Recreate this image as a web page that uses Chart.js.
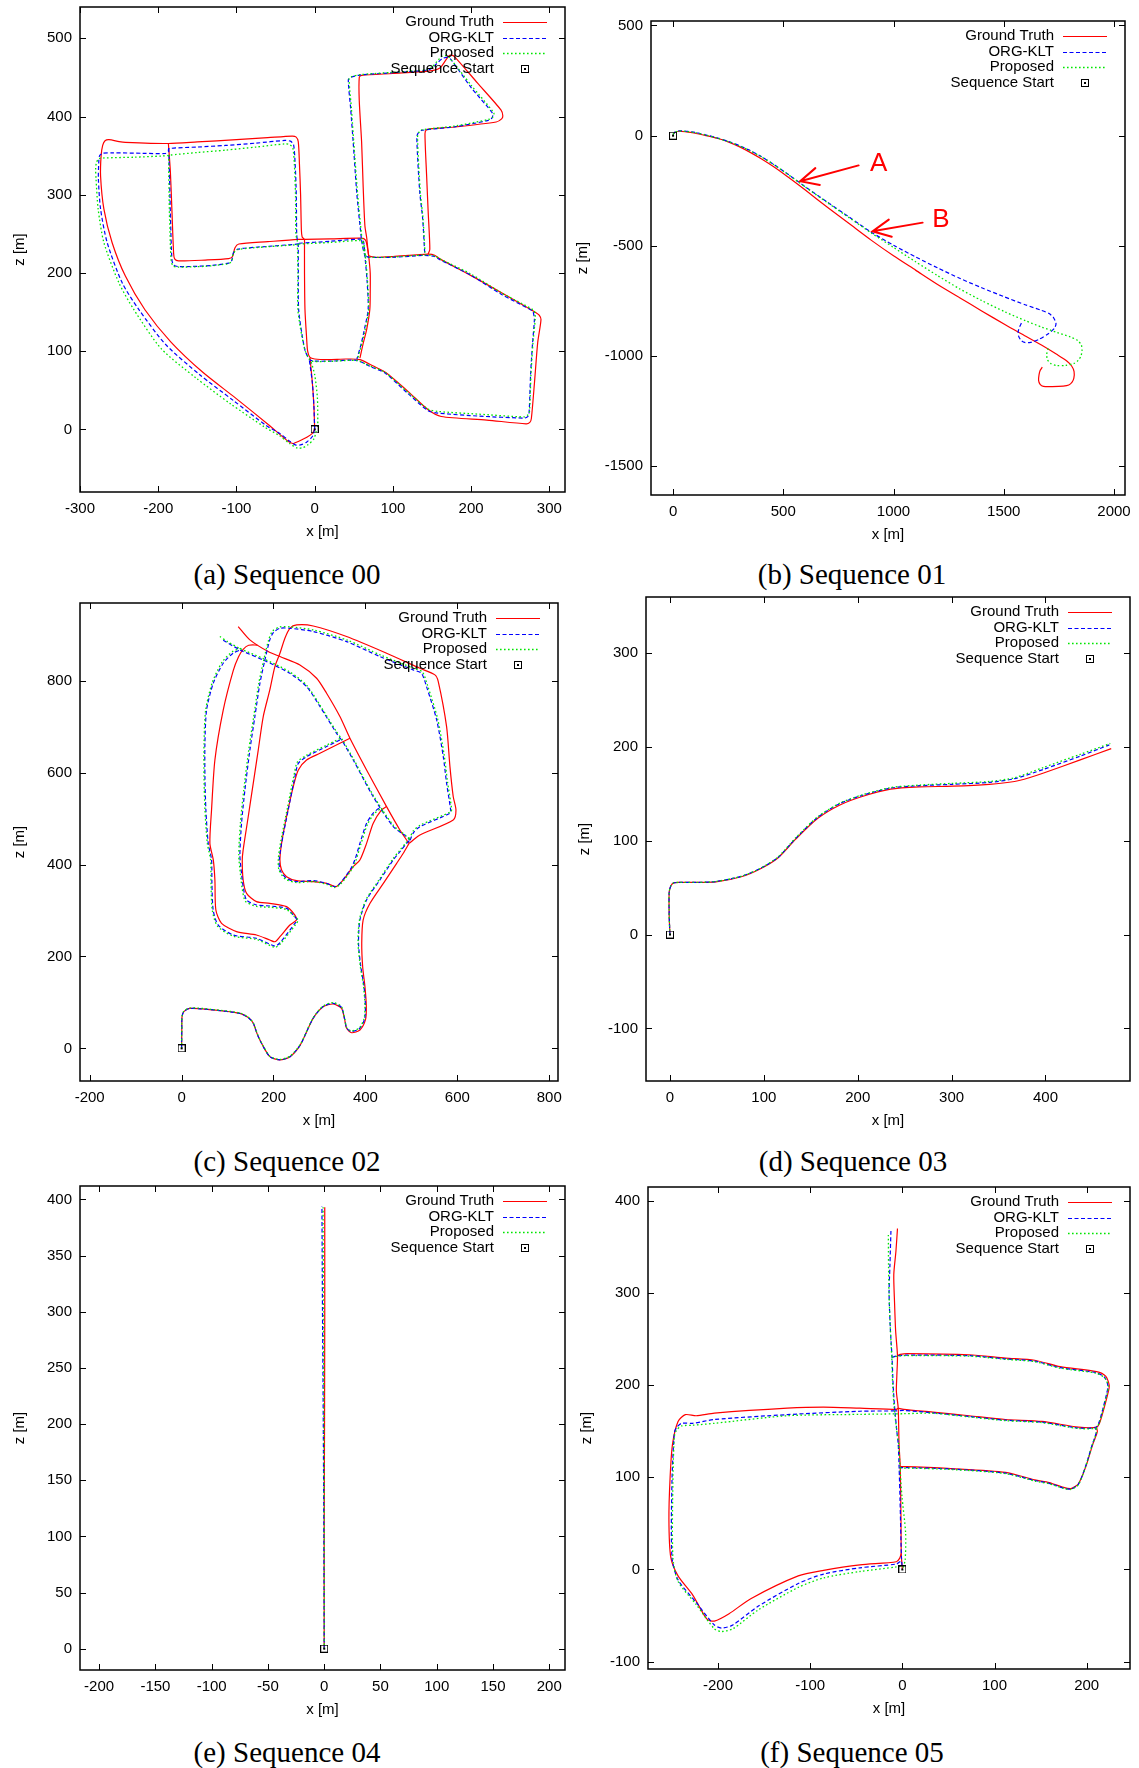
<!DOCTYPE html>
<html>
<head>
<meta charset="utf-8">
<script src="https://cdn.jsdelivr.net/npm/chart.js@4.4.1/dist/chart.umd.min.js"></script>
<style>
  html, body { margin: 0; padding: 0; background: #fff; }
  body { width: 1139px; height: 1768px; position: relative; overflow: hidden; }
  canvas { position: absolute; }
  .cap { position: absolute; width: 300px; text-align: center; white-space: nowrap;
         font-family: "Liberation Serif", "Times New Roman", serif; font-size: 29px; line-height: 29px; color: #000; }
</style>
</head>
<body>
<script>
// ---------------- DATA ----------------
const seriesNames = ['Ground Truth', 'ORG-KLT', 'Proposed', 'Sequence Start'];
const captions = ['(a) Sequence 00', '(b) Sequence 01', '(c) Sequence 02', '(d) Sequence 03', '(e) Sequence 04', '(f) Sequence 05'];
const startPoint = [0, 0];

// Sequence 00  (each series = list of path segments, points are [x, z])
const s00_xt = [-300, -200, -100, 0, 100, 200, 300];
const s00_yt = [0, 100, 200, 300, 400, 500];
const s00_gt = [
  [[0,0],[-3,-5],[-10,-10],[-17,-13.5],[-25,-17],[-28,-18],[-34,-15],[-45,-6],[-59,6],[-101,40],[-143,73],[-184,112],[-217,153],[-242,196],[-259,239],[-269.5,282],[-273.7,324],[-273,350],[-271,363],[-268,369],[-263,370.5],[-250,368],[-242,367],[-187,365.5],[-150,367.5],[-100,370.5],[-60,373],[-29,375],[-24,374],[-21,368],[-19.5,340],[-18,300],[-17,255],[-16,246],[-13,243]],
  [[-187,365.5],[-184.5,330],[-182.5,280],[-180.3,225],[-179,218],[-174,215.4],[-140,216.5],[-110,218.4],[-105,221],[-102,232],[-97,237],[-60,240],[-20.9,243],[-13,243]],
  [[-13,243],[20,243.5],[59.8,244.5],[65,242],[67,235],[69,222],[71,200],[71,175],[70.5,153.4],[66.5,128],[62,110],[57.8,91]],
  [[-13,243],[-13,200],[-12.4,153.4],[-10.5,120],[-9,100],[-6,92],[0,90],[17.3,89.3],[40,90],[57.8,89.3],[75,81],[91.7,72.2],[120,48],[145.2,25.1],[161.8,16.5],[220,12],[270.2,7.2],[275,9],[277,14],[281,60],[285.1,110.9],[289.3,140.6],[287,146],[283,149.2],[238.3,175],[200,196.6],[160,218],[153.4,222.7],[144.9,224],[100,221],[78.9,220],[72,221],[69,222]],
  [[145,224],[147.2,230.4],[145,280],[143.1,324.5],[141,378],[143,383],[150,384.5],[178.9,386.6],[232,393],[239,397],[240.5,401],[238.3,408.2],[208,443],[179,476.3],[175,478.5],[171,477],[160,462],[145,458],[100,455],[60,452.5],[57,450],[57,420],[60,367.3],[62,310],[64.2,260.3],[66.5,245],[68,230],[69,222]],
  [[0,0],[-1,30],[-3,60],[-6,92]]
];
const s00_klt = [
  [[0,0],[-3,-9],[-10,-16],[-17,-19.5],[-24,-20],[-32,-15],[-45,-5],[-62,5],[-104,37],[-147,70],[-190,108],[-224.9,153.4],[-246.2,187.7],[-265.3,239],[-273.7,281.8],[-276.5,320],[-276,342],[-275,350],[-271,353],[-258.9,353.6],[-220,353],[-190.9,352.7],[-187,356],[-186.6,359],[-150,361],[-114.3,363],[-75,366],[-37.9,369.4],[-31,368.5],[-27,364],[-25,340],[-23.5,300],[-23,250],[-22,240]],
  [[-186.6,359],[-185.5,320],[-184.3,270],[-182.4,216],[-180,210],[-174,208.2],[-140,209],[-110,212.5],[-106,216],[-103.8,226],[-98,230.5],[-60,234],[-23,236.8],[-18,237.5]],
  [[-20,238],[20,240.5],[59.8,243.3],[62.5,240],[64.2,222],[67,190],[68.4,153.4],[64,130],[59.8,110.7],[54,90]],
  [[-21,238],[-20.9,200],[-20.5,153.4],[-16,120],[-12,100],[-7,90],[-2,87.5],[20,87.3],[53.4,88.2],[72,80],[90,72],[118,47],[145,24],[157.5,20.9],[210,17],[268,14.5],[272,16],[274,20],[276,70],[278.5,110],[280.9,140.6],[280,147],[278.7,151.3],[238,173],[200,197],[160,217],[153,221],[140,222.5],[100,220],[70,220],[64.2,222]],
  [[140.6,226.2],[138,270],[134.3,303.3],[130.5,374],[132.5,379],[136.3,382.2],[180,387],[222,395],[226.5,398],[227.7,403.6],[200,437],[174,473],[169,475.5],[163,474],[150,462],[145.2,459.4],[100,456],[57.8,453],[46,450],[43,447],[46,410],[49.2,367.3],[54,300],[59.8,243.3],[62,230],[64.2,222]],
  [[0,0],[-1,30],[-3,60],[-7,90]]
];
const s00_prop = [
  [[2,-2],[-1,-12],[-9,-20],[-16,-23.5],[-22,-24],[-32,-18],[-45,-8],[-64,3],[-108,33],[-152,66],[-196,103],[-231.3,153.4],[-250.4,187.7],[-269.5,239],[-276.8,281.8],[-279.5,320],[-280,333],[-279,341],[-276,346],[-270,347],[-230,348],[-195.2,349.5],[-188,350],[-186.6,350.5],[-150,354],[-114,357],[-75,361],[-37.9,365],[-32,364],[-28,360],[-26,340],[-24.5,300],[-24,250],[-22,240]],
  [[-186.6,350.5],[-186.5,320],[-185.5,270],[-183.5,216],[-181,209],[-175,207.5],[-140,208.5],[-110,212],[-106,215.5],[-104,225],[-98,230],[-60,233.5],[-24,236],[-19,236.5]],
  [[-20,237],[20,239],[59,241.5],[62.5,238.5],[64.7,222],[67.5,190],[69,153.4],[65,130],[60.5,110.7],[54.5,89]],
  [[-22,237],[-21.5,200],[-21.5,153.4],[-16.5,120],[-12,100],[-6,89],[-2,87],[20,87],[54,88],[72,80.5],[90,73],[118,48.5],[145,26],[157.5,23],[210,19.5],[268,16],[272,18],[274.5,22],[276.5,70],[279,110],[282,142],[281.5,148],[280,152.5],[238,175],[200,198.5],[160,218],[153,222],[140,223],[100,220.5],[70,220],[64.7,222]],
  [[141,226],[138.5,270],[135,303.3],[131.5,374],[133.5,380],[137,383],[180,388],[223,396.5],[228,399.5],[229,404.5],[200,440],[172,475.5],[167,478],[162,476.5],[150,463],[145,460],[100,456.5],[58,453.5],[47,451],[44,448.5],[47,410],[50,367],[55,300],[60.5,243],[62.5,230],[64.7,222]],
  [[4,3],[3.5,40],[0,70],[-5,88]]
];

// Sequence 01
const s01_xt = [0, 500, 1000, 1500, 2000];
const s01_yt = [-1500, -1000, -500, 0, 500];
const s01_gt = [[[0,5],[8,14],[28,20],[60,17],[94,12],[150,0],[200,-12],[250,-28],[300,-50],[350,-76],[400,-105],[450,-137],[500,-172],[570,-224],[600,-247],[700,-325],[800,-400],[900,-475],[1000,-545],[1100,-610],[1200,-675],[1300,-735],[1400,-795],[1507,-858],[1600,-910],[1671,-950],[1740,-992],[1786,-1022],[1808,-1045],[1819,-1070],[1818,-1100],[1810,-1118],[1795,-1131],[1770,-1136],[1720,-1138],[1680,-1137],[1665,-1128],[1658,-1110],[1660,-1085],[1665,-1065],[1675,-1050]]];
const s01_klt = [[[0,5],[8,16],[28,22],[60,20],[100,15],[150,3],[200,-10],[250,-26],[300,-45],[350,-68],[400,-95],[450,-126],[500,-160],[570,-210],[600,-232],[700,-302],[800,-370],[896,-436],[1000,-497],[1100,-550],[1200,-600],[1300,-647],[1400,-690],[1500,-730],[1600,-768],[1670,-792],[1704,-806],[1725,-824],[1737,-852],[1730,-874],[1704,-897],[1660,-924],[1622,-938],[1595,-938],[1578,-928],[1567,-908],[1566,-886],[1573,-865],[1581,-848]]];
const s01_prop = [[[0,5],[8,16],[28,21],[60,19],[100,14],[150,2],[200,-11],[250,-27],[300,-46],[350,-69],[400,-96],[450,-127],[500,-161],[570,-211],[600,-233],[700,-304],[800,-373],[900,-442],[1000,-507],[1100,-572],[1200,-635],[1300,-695],[1400,-748],[1507,-800],[1600,-840],[1671,-868],[1740,-892],[1802,-913],[1835,-929],[1852,-950],[1855,-975],[1850,-1000],[1838,-1019],[1819,-1033],[1780,-1042],[1740,-1043],[1712,-1033],[1698,-1016],[1695,-992],[1701,-965]]];
const s01_arrows = [[841.7, -135, 576.9, -206.8], [1132, -394.6, 904.8, -434]];   // tail x,z -> head x,z
const s01_marks = [['A', 932.9, -130], ['B', 1214.5, -382.3]];

// Sequence 02
const s02_xt = [-200, 0, 200, 400, 600, 800];
const s02_yt = [0, 200, 400, 600, 800];
const s02_gt = [
  [[0,0],[0.5,40],[1,69],[5,80],[18,87],[69,83.6],[127,76],[145,67],[156,54.6],[165,30],[174,11],[192,-18],[214,-25],[236,-18],[258,7],[286,65],[308,90.6],[330,96.5],[348,87],[355,61.8],[359,43.7],[370,34],[388,40],[400,61.8],[402,90.6],[399,134],[394,177.6],[392,228.5],[395,279],[410,315.6],[439,359],[468,402.6],[482,424],[495,446]],
  [[123.2,917.8],[148.6,888.8],[188.5,863.3],[214,852.5],[257.5,834.3],[293.8,805.3],[315.5,772.6],[344.5,721.9],[366.3,674.8],[402.5,605.8],[446,526],[475,475.2],[489.6,453.4],[495,446]],
  [[495,446],[504,453.4],[518.6,464.4],[591,497],[597,518.8],[591,548],[583.9,613],[576.6,700],[558.5,798],[551.2,812.6],[518.6,827],[446,859.7],[359,896],[286.5,919],[250.2,921.3],[235.7,914],[225,893],[214,859.6],[203,830.6],[192,780],[177.7,722],[166.8,649],[156,577],[145,504],[134,432],[132,410],[134,366.4],[141.4,337.3],[163,319.3],[192,315.6],[228.4,308.3],[246.6,290],[250,279.3],[235.7,268.4],[214,243],[203,232],[192,235.8],[163,246.6],[119.6,254],[87,272],[74.6,301],[72.5,366.4],[69,410],[61.6,446],[65.2,518.7],[72.5,627.5],[90.6,736],[112.4,822],[124,852],[134,868],[146,877],[165,877.5]],
  [[366.3,674.8],[344.5,664],[301,642],[272,627.5],[254,605.8],[243,569.5],[228.4,504],[217.6,446],[214,410],[217.6,388],[228.4,373.6],[250,365],[286.5,362.7],[315.5,359],[330,353.4],[337.2,352],[351.8,366.4],[373.5,395.3],[388,410],[402.5,446],[417,489.6],[435,518.7],[446,526]]
];
const s02_klt = [
  [[0,0],[0.5,40],[1,69],[5,80],[18,87],[69,83.6],[127,76],[145,67],[156,54.6],[165,30],[174,11],[192,-18],[214,-25],[236,-18],[258,7],[286,65],[308,91],[330,98],[348,89],[355,63],[359,45],[368,37],[386,42],[398,63],[400,92],[397,134],[390,177.6],[385,228.5],[388,279.3],[402.5,323],[431.5,366.4],[460.6,410],[475,428],[489.6,446],[497,453]],
  [[90.6,888],[126.9,867],[177.7,845],[235.7,816],[272,787],[301,744],[337,686],[350,668],[373.5,627.5],[417,547.5],[460.5,482.4],[489.6,460.6],[497,453]],
  [[497,453],[505,470],[518.6,482.4],[584,511.5],[585.4,518.7],[576.6,577],[569.4,634.8],[555,714.6],[533,787],[522,816],[504,823.5],[431.5,852.5],[359,885],[286.5,907],[235.7,914],[214,914],[200,905],[192,888.8],[181.3,845],[170.4,794],[159.5,722],[148.6,649],[137.8,562],[130.5,490],[126.9,420],[130.5,380],[134,351.8],[141.4,322.8],[163,312],[192,309.8],[228.4,304.6],[243,290],[251.6,279.3],[246.6,272],[214,229.8],[203,222.6],[163,239.3],[112.4,246.6],[79.7,268.4],[68.8,301],[66,360],[65.2,410],[58,446],[52.9,518.7],[50.8,591],[50.8,663.8],[54.4,736],[68.8,794],[90.6,838],[112.4,860],[130.5,868]],
  [[344.5,671],[315.5,656.6],[272,634.8],[254,620],[246.6,591],[232,518.7],[217.6,446],[212.5,410],[214,388],[228.4,370],[250,362.7],[286.5,365],[315.5,359],[333.6,352],[344.5,359],[366.3,388],[377,410],[388,446],[402.5,489.6],[417,512],[430,522],[438,516]]
];
const s02_prop = [
  [[0,0],[0.5,40],[1,69],[5,81],[18,88],[69,84.5],[127,77],[145,68],[156,55.5],[165,31],[174,12],[192,-17],[214,-24],[236,-17],[258,8],[286,66],[308,92],[330,99.5],[348,90.5],[355,64],[359,46],[368,38.5],[386,43.5],[397,64],[399,92],[396,134],[389,177.6],[384,228.5],[387,279.3],[401.5,324],[430.5,368],[459.6,412],[474,430],[488.6,448],[496,456]],
  [[83.3,896],[100,885],[126.9,870],[177.7,848],[235.7,819],[272,790],[301,747],[337,689],[350,671],[373.5,630.5],[417,550.5],[460.5,485.4],[488.6,462.6],[496,456]],
  [[496,456],[504,473],[518.6,485.4],[586,515],[587.4,521.7],[578.6,580],[571.4,637.8],[557,717.6],[535,790],[524,819],[506,826.5],[433.5,855.5],[361,888],[288.5,910],[237.7,917],[214,917],[198,908],[189.5,888.8],[178.8,845],[167.9,794],[157,722],[146.1,649],[135.3,562],[128,490],[124.4,420],[128,380],[131.5,350],[139,320],[163,309],[192,307],[228.4,302],[244.5,288],[253.6,279.3],[248.6,270],[215,227.5],[203,220],[163,237],[112.4,244],[78,266],[66.8,301],[64,360],[63.2,410],[56,446],[50.9,518.7],[48.8,591],[48.8,663.8],[52.4,736],[66.8,796],[88.6,841],[110.4,863],[130.5,871]],
  [[344.5,674],[315.5,659.6],[272,637.8],[252,623],[244.6,594],[230,521.7],[215.6,449],[210.5,412],[212,388],[226.4,368],[250,360.7],[286.5,363],[315.5,357],[333.6,350],[345.5,357],[368.3,386],[379,408],[390,444],[404.5,487.6],[419,510],[432,520],[440,513]]
];

// Sequence 03
const s03_xt = [0, 100, 200, 300, 400];
const s03_yt = [-100, 0, 100, 200, 300];
const s03_gt = [[[0,0],[-0.8,20],[-0.8,45],[1,52],[4,55],[10,55.5],[30,55.5],[49,56],[76,61.5],[95.4,69.6],[115,81.6],[134,101.7],[157.5,123.8],[181,138],[204,146.8],[235,154.8],[266,157.2],[301,158],[340,160],[367,163],[382.6,167],[398,172],[437,186],[470,198]]];
const s03_klt = [[[0,0],[-0.8,20],[-0.8,45],[1,52],[4,55],[10,55.5],[30,55.5],[49,56.5],[76,62],[95.4,70],[115,82],[134,102.5],[157.5,125],[181,139.5],[204,148],[235,156],[266,158.5],[301,160],[340,162],[367,166],[398,176],[437,190],[468,202]]];
const s03_prop = [[[0,0],[-0.8,20],[-0.8,45],[1,52],[4,55],[10,55.5],[30,55.5],[49,56.5],[76,62],[95.4,70],[115,82.5],[134,103],[157.5,125.5],[181,140],[204,148.5],[235,156.5],[266,159.2],[301,161],[340,163],[367,167],[398,178],[437,192],[469,203.5]]];

// Sequence 04
const s04_xt = [-200, -150, -100, -50, 0, 50, 100, 150, 200];
const s04_yt = [0, 50, 100, 150, 200, 250, 300, 350, 400];
const s04_gt = [[[0,0],[0,100],[0.3,200],[0.5,300],[0.5,393]]];
const s04_klt = [[[0,0],[-0.3,100],[-0.8,200],[-1.5,300],[-2,394]]];
const s04_prop = [[[0,0],[0,100],[-0.3,200],[-0.6,300],[-1,393]]];

// Sequence 05
const s05_xt = [-200, -100, 0, 100, 200];
const s05_yt = [-100, 0, 100, 200, 300, 400];
const s05_gt = [
  [[-5.3,370],[-7,345],[-9.3,320],[-8.5,290],[-7.3,258.8],[-5.3,232],[-6,210],[-6.5,193.4],[-4.5,175],[-3.6,136],[-2.3,111.5],[-1.5,54],[-1.2,17.4],[0,0]],
  [[-4.5,175],[-6.5,173.7],[-46,175],[-85.5,176.2],[-125,175],[-204,169.6],[-223.7,166.8],[-235.5,168],[-243.4,160.6],[-249.4,136],[-252,100],[-253.3,54],[-251.3,13.3],[-243.4,-7],[-227.6,-27.6],[-212,-54],[-204,-56],[-188,-48],[-164.5,-31.7],[-113,-7],[-85.5,-1],[-46,5],[-6.5,8.4],[-3,12],[-1.2,17.4]],
  [[-5.3,232],[-2.3,233.4],[5.3,234.3],[72.5,233],[112,229.4],[143.6,227],[171.2,220],[210.7,214.6],[220.6,209.7],[224.5,199.5],[222.6,189.3],[214.6,160.6],[210.7,154.5],[191,154.5],[151.5,160.6],[112,162.7],[72.5,166.8],[33,170.8],[1.6,173.7],[-4.5,175]],
  [[-2.3,111.5],[5.3,111.5],[52.7,109.5],[112,105.4],[143.6,97.2],[159.4,94.3],[175,89],[183,87.8],[191,93],[199,111.5],[206.7,136],[211.5,149.2],[210.7,154.5]]
];
const s05_klt = [
  [[-12.4,367.3],[-13.5,330],[-14.4,299.7],[-13,260],[-11.2,230],[-10,200],[-8.5,177],[-6,150],[-4.5,136],[-3.5,110],[-2.5,74.7],[-1,13],[0,0]],
  [[-8.5,172],[-46,171.7],[-125,168],[-204,162.7],[-227.6,158.6],[-239.5,158.6],[-245,154],[-247.4,148.3],[-250,95],[-250,13.3],[-243.4,-11.3],[-223.7,-35.8],[-204,-60.3],[-196,-63.6],[-184,-60.3],[-156.6,-40],[-113,-15.3],[-85.5,-5],[-46,1.8],[-6.5,5.9],[-1.8,9]],
  [[-11.2,230],[-5,232],[5,232.5],[72.5,232],[112,228.5],[143.6,226],[171.2,219],[210,213.5],[219.5,208.5],[223,199.5],[221.5,190],[213.5,160],[209.5,154],[191,153.5],[151.5,159.8],[112,162],[72.5,166],[33,170],[1.6,172.5],[-8.5,172]],
  [[-3.5,110.5],[5.3,110.5],[52.7,109],[112,104.5],[143.6,96.5],[159.4,93.5],[175,88.3],[183,87.2],[191,92.5],[198.5,111],[206,135.5],[210.5,149],[209.5,154]]
];
const s05_prop = [
  [[-15.2,363],[-15,330],[-14.5,300],[-13,260],[-11.5,230],[-10.5,200],[-9,177],[-6,150],[-4,136],[-2.5,110],[-0.5,80],[3.5,40],[3,10],[0,0]],
  [[-9,168.8],[-46,168.3],[-125,166.8],[-204,158.6],[-227.6,156.5],[-239.5,155.7],[-245,151],[-247.4,144.2],[-249,95],[-249,13.3],[-243.4,-13],[-223.7,-38],[-204,-64.4],[-196,-67.3],[-184,-64.4],[-156.6,-44],[-113,-19.5],[-85.5,-9.2],[-46,-2.2],[-6.5,2.7],[-0.5,4]],
  [[-11.5,230],[-5,231.5],[5,232],[72.5,231.5],[112,228],[143.6,225.5],[171.2,218.5],[210,213],[219.5,208],[223.5,199],[222,190],[214,160],[210,153.5],[191,153],[151.5,159.3],[112,161.5],[72.5,165.5],[33,169.5],[1.6,169],[-9,168.8]],
  [[-2.5,110],[5.3,110],[52.7,108.5],[112,104],[143.6,96],[159.4,93],[175,88],[183,86.8],[191,92],[198.5,110.5],[206,135],[210.5,148.5],[210,153.5]]
];

// ---------------- LAYOUT / STYLE ----------------
const FONT = '"Liberation Sans", Arial, Helvetica, sans-serif';
const STY = [
  { color: '#ff0000', dash: [], width: 1.2, order: 3 },
  { color: '#0000ff', dash: [4, 2.5], width: 1.2, order: 2 },
  { color: '#00e600', dash: [1.6, 2.4], width: 1.3, order: 1 }
];
const PADT = 24, PADR = 26, XAXH = 52, YAXW = 80;
const panels = [
  { gt: s00_gt, klt: s00_klt, prop: s00_prop, xt: s00_xt, yt: s00_yt, L: 80, T: 7, R: 565, B: 492, xr: [-300, 320], yr: [-80, 540], ypad: 11, cap: [287, 574] },
  { gt: s01_gt, klt: s01_klt, prop: s01_prop, xt: s01_xt, yt: s01_yt, L: 651, T: 21, R: 1125, B: 495, xr: [-100, 2050], yr: [-1630, 520], ypad: 2.5, cap: [852, 574], arrows: s01_arrows, marks: s01_marks },
  { gt: s02_gt, klt: s02_klt, prop: s02_prop, xt: s02_xt, yt: s02_yt, L: 80, T: 603, R: 558, B: 1081, xr: [-221, 819], yr: [-71, 969], ypad: 10.8, cap: [287, 1161.5] },
  { gt: s03_gt, klt: s03_klt, prop: s03_prop, xt: s03_xt, yt: s03_yt, L: 646, T: 597, R: 1130, B: 1081, xr: [-25.5, 490], yr: [-156, 359.5], ypad: 10.3, cap: [853, 1161.5] },
  { gt: s04_gt, klt: s04_klt, prop: s04_prop, xt: s04_xt, yt: s04_yt, L: 80, T: 1186, R: 565, B: 1670, xr: [-217, 214], yr: [-19, 412], ypad: 11, cap: [287, 1752] },
  { gt: s05_gt, klt: s05_klt, prop: s05_prop, xt: s05_xt, yt: s05_yt, L: 648, T: 1187, R: 1130, B: 1669, xr: [-276, 247], yr: [-108, 415], ypad: 9.4, cap: [852, 1752] }
];

// start marker glyph (square with centre dot)
const marker = document.createElement('canvas');
marker.width = 8; marker.height = 8;
(function () {
  const c = marker.getContext('2d');
  c.strokeStyle = '#000'; c.lineWidth = 1;
  c.strokeRect(0.5, 0.5, 7, 7);
  c.fillStyle = '#000'; c.fillRect(3, 3, 2, 2);
})();

const gpPlugin = {
  id: 'gp',
  afterDatasetsDraw(chart) {
    const p = chart.canvas._gp; if (!p) return;
    const { ctx, chartArea: a } = chart;
    const xs = chart.scales.x, ys = chart.scales.y;
    ctx.save();
    // annotations (arrows + letters)
    if (p.arrows) {
      ctx.strokeStyle = '#ff0000'; ctx.fillStyle = '#ff0000'; ctx.lineWidth = 2; ctx.lineCap = 'round';
      for (const ar of p.arrows) {
        const x1 = xs.getPixelForValue(ar[0]), y1 = ys.getPixelForValue(ar[1]);
        const x2 = xs.getPixelForValue(ar[2]), y2 = ys.getPixelForValue(ar[3]);
        const ang = Math.atan2(y2 - y1, x2 - x1), hl = 20, ha = 0.45;
        ctx.beginPath();
        ctx.moveTo(x1, y1); ctx.lineTo(x2, y2);
        ctx.moveTo(x2 - hl * Math.cos(ang - ha), y2 - hl * Math.sin(ang - ha)); ctx.lineTo(x2, y2);
        ctx.lineTo(x2 - hl * Math.cos(ang + ha), y2 - hl * Math.sin(ang + ha));
        ctx.stroke();
      }
      ctx.font = '26px ' + FONT; ctx.textAlign = 'center'; ctx.textBaseline = 'middle';
      for (const m of p.marks) ctx.fillText(m[0], xs.getPixelForValue(m[1]), ys.getPixelForValue(m[2]));
    }
    // inward ticks on all four sides
    ctx.strokeStyle = '#000'; ctx.lineWidth = 1; ctx.setLineDash([]); ctx.lineCap = 'butt';
    ctx.beginPath();
    for (const v of p.xt) {
      const px = Math.round(xs.getPixelForValue(v)) + 0.5;
      ctx.moveTo(px, a.bottom); ctx.lineTo(px, a.bottom - 6);
      ctx.moveTo(px, a.top); ctx.lineTo(px, a.top + 6);
    }
    for (const v of p.yt) {
      const py = Math.round(ys.getPixelForValue(v)) + 0.5;
      ctx.moveTo(a.left, py); ctx.lineTo(a.left + 6, py);
      ctx.moveTo(a.right, py); ctx.lineTo(a.right - 6, py);
    }
    ctx.stroke();
    ctx.lineWidth = 1.5;
    ctx.strokeRect(a.left, a.top, a.right - a.left, a.bottom - a.top);
    // legend
    const rowY = [15, 30.5, 46, 61.5];
    ctx.font = '15px ' + FONT; ctx.fillStyle = '#000'; ctx.textAlign = 'right'; ctx.textBaseline = 'middle';
    for (let i = 0; i < 4; i++) {
      const yy = a.top + rowY[i];
      ctx.fillText(seriesNames[i], a.right - 71, yy);
      if (i < 3) {
        ctx.strokeStyle = STY[i].color; ctx.lineWidth = STY[i].width; ctx.setLineDash(STY[i].dash);
        ctx.beginPath(); ctx.moveTo(a.right - 62, Math.round(yy) + 0.5); ctx.lineTo(a.right - 18, Math.round(yy) + 0.5); ctx.stroke();
      } else {
        ctx.drawImage(marker, Math.round(a.right - 40) - 4, Math.round(yy) - 4);
      }
    }
    ctx.restore();
  }
};
Chart.register(gpPlugin);

function makeChart(p, idx) {
  const W = p.R - p.L + YAXW + PADR, H = p.B - p.T + PADT + XAXH;
  const cv = document.createElement('canvas');
  cv.width = W; cv.height = H;
  cv.style.left = (p.L - YAXW) + 'px'; cv.style.top = (p.T - PADT) + 'px';
  cv.style.width = W + 'px'; cv.style.height = H + 'px';
  cv._gp = p;
  document.body.appendChild(cv);

  const datasets = [];
  [p.gt, p.klt, p.prop].forEach((series, si) => {
    const st = STY[si];
    series.forEach(seg => {
      datasets.push({
        label: seriesNames[si],
        data: seg.map(q => ({ x: q[0], y: q[1] })),
        borderColor: st.color, borderWidth: st.width, borderDash: st.dash,
        pointRadius: 0, fill: false, tension: 0.25, order: st.order, clip: 0
      });
    });
  });
  datasets.push({
    label: seriesNames[3], data: [{ x: startPoint[0], y: startPoint[1] }],
    showLine: false, pointStyle: marker, pointRadius: 4, order: 0, borderColor: '#000'
  });

  const tickFont = { family: FONT, size: 15 };
  new Chart(cv, {
    type: 'line',
    data: { datasets },
    options: {
      responsive: false, animation: false, events: [],
      layout: { padding: { left: 0, top: PADT, right: PADR, bottom: 0 } },
      plugins: { legend: { display: false }, tooltip: { enabled: false } },
      scales: {
        x: {
          type: 'linear', position: 'bottom', min: p.xr[0], max: p.xr[1],
          afterBuildTicks: s => { s.ticks = p.xt.map(v => ({ value: v })); },
          afterFit: s => { s.height = XAXH; },
          grid: { display: false, drawTicks: false }, border: { display: false },
          ticks: { font: tickFont, color: '#000', padding: 7.5, maxRotation: 0, autoSkip: false, callback: v => String(v) },
          title: { display: true, text: 'x [m]', font: tickFont, color: '#000', padding: { top: 0, bottom: 3.5 } }
        },
        y: {
          type: 'linear', position: 'left', min: p.yr[0], max: p.yr[1],
          afterBuildTicks: s => { s.ticks = p.yt.map(v => ({ value: v })); },
          afterFit: s => { s.width = YAXW; },
          grid: { display: false, drawTicks: false }, border: { display: false },
          ticks: { font: tickFont, color: '#000', padding: 8, autoSkip: false, callback: v => String(v) },
          title: { display: true, text: 'z [m]', font: tickFont, color: '#000', padding: { top: p.ypad, bottom: 0 } }
        }
      }
    }
  });

  const cap = document.createElement('div');
  cap.className = 'cap';
  cap.textContent = captions[idx];
  cap.style.left = (p.cap[0] - 150) + 'px';
  cap.style.top = (p.cap[1] - 14.5) + 'px';
  document.body.appendChild(cap);
}
panels.forEach(makeChart);
</script>
</body>
</html>
